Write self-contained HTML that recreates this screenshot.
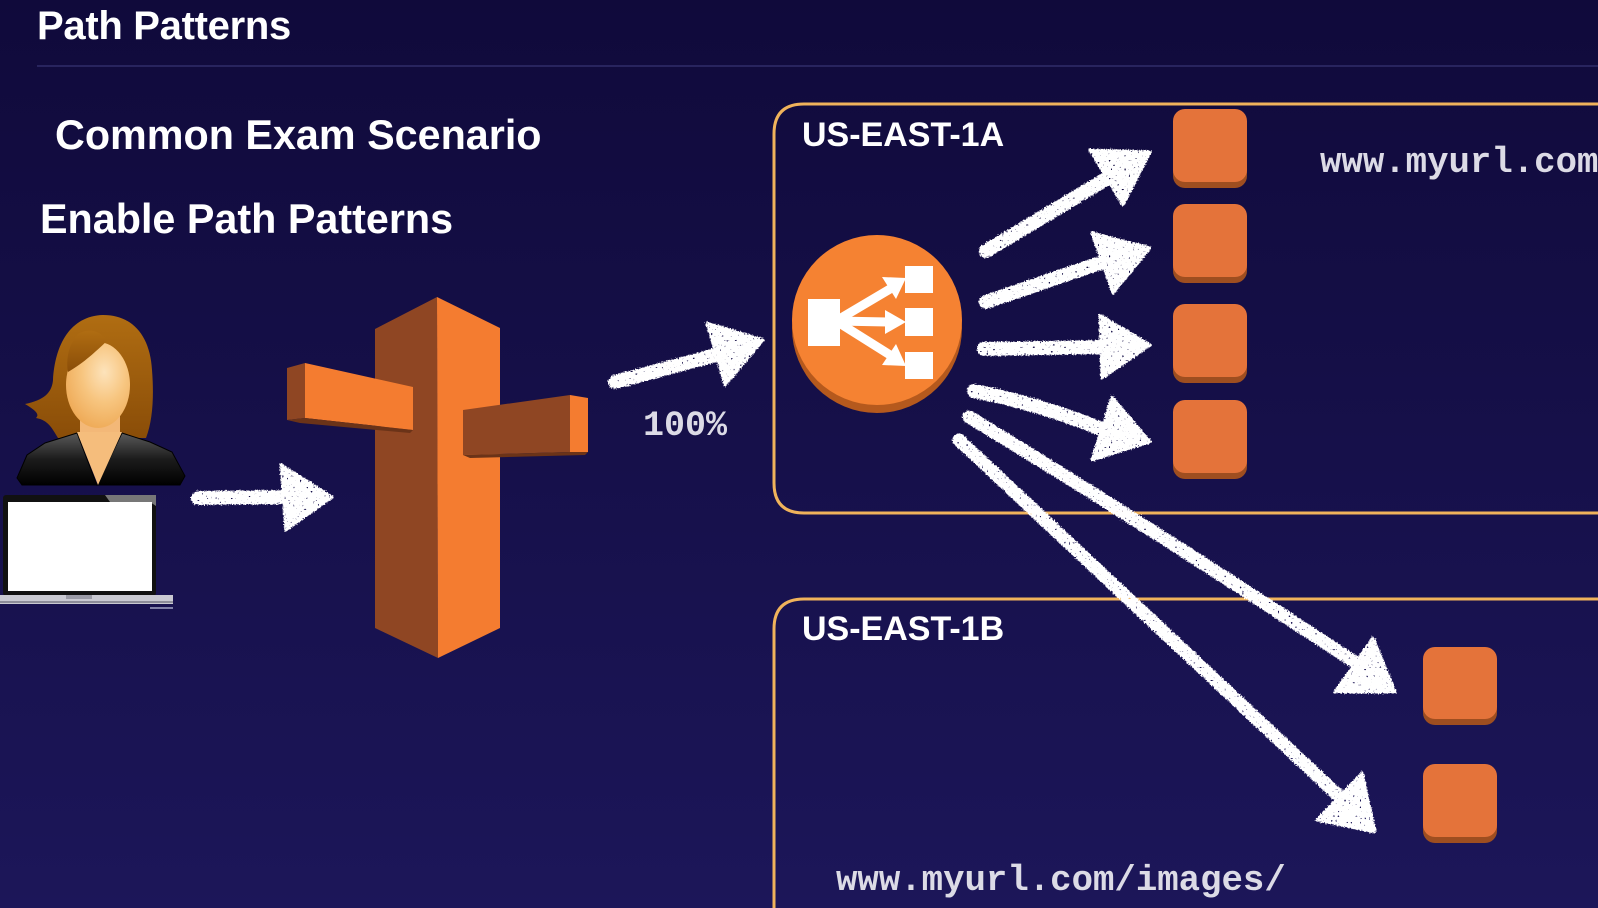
<!DOCTYPE html>
<html>
<head>
<meta charset="utf-8">
<style>
  html,body{margin:0;padding:0;background:#140e47;width:1598px;height:908px;overflow:hidden;}
  svg{display:block;}
</style>
</head>
<body>
<svg width="1598" height="908" viewBox="0 0 1598 908" xmlns="http://www.w3.org/2000/svg">
  <defs>
    <linearGradient id="bg" x1="0" y1="0" x2="0" y2="1">
      <stop offset="0" stop-color="#100a3b"/>
      <stop offset="1" stop-color="#1c1659"/>
    </linearGradient>
    <linearGradient id="hair" x1="0" y1="0" x2="0" y2="1">
      <stop offset="0" stop-color="#b06d12"/>
      <stop offset="1" stop-color="#8a4d08"/>
    </linearGradient>
    <radialGradient id="face" cx="0.6" cy="0.35" r="0.7">
      <stop offset="0" stop-color="#fde3bb"/>
      <stop offset="0.5" stop-color="#f7c57f"/>
      <stop offset="1" stop-color="#eea955"/>
    </radialGradient>
    <linearGradient id="jacket" x1="0" y1="0" x2="0" y2="1">
      <stop offset="0" stop-color="#5a5a5a"/>
      <stop offset="0.5" stop-color="#1c1c1c"/>
      <stop offset="1" stop-color="#000"/>
    </linearGradient>
    <filter id="chalk" x="-10%" y="-10%" width="120%" height="120%">
      <feTurbulence type="fractalNoise" baseFrequency="0.7" numOctaves="2" seed="3" result="n"/>
      <feDisplacementMap in="SourceGraphic" in2="n" scale="4" xChannelSelector="R" yChannelSelector="G" result="d"/>
      <feTurbulence type="fractalNoise" baseFrequency="0.45" numOctaves="1" seed="11" result="n2"/>
      <feColorMatrix in="n2" type="matrix" values="0 0 0 0 0  0 0 0 0 0  0 0 0 0 0  0 0 0 -16 12" result="holes"/>
      <feComposite in="d" in2="holes" operator="in"/>
    </filter>
  </defs>

  <rect x="0" y="0" width="1598" height="908" fill="url(#bg)"/>

  <!-- Title -->
  <text x="37" y="39" font-family="Liberation Sans, Arial, sans-serif" font-weight="bold" font-size="40" fill="#ffffff" letter-spacing="-0.3">Path Patterns</text>
  <line x1="37" y1="66" x2="1598" y2="66" stroke="#28245e" stroke-width="2"/>

  <text x="55" y="149" font-family="Liberation Sans, Arial, sans-serif" font-weight="bold" font-size="41.3" fill="#ffffff">Common Exam Scenario</text>
  <text x="40" y="233" font-family="Liberation Sans, Arial, sans-serif" font-weight="bold" font-size="41.3" fill="#ffffff">Enable Path Patterns</text>

  <!-- Zone boxes -->
  <path d="M1598,104 L804,104 Q774,104 774,134 L774,483 Q774,513 804,513 L1598,513" fill="none" stroke="#f0b35b" stroke-width="3"/>
  <path d="M774,908 L774,629 Q774,599 804,599 L1598,599" fill="none" stroke="#f0b35b" stroke-width="3"/>

  <text x="802" y="146" font-family="Liberation Sans, Arial, sans-serif" font-weight="bold" font-size="34" fill="#ffffff">US-EAST-1A</text>
  <text x="802" y="640" font-family="Liberation Sans, Arial, sans-serif" font-weight="bold" font-size="34" fill="#ffffff">US-EAST-1B</text>

  <text x="1320" y="172" font-family="Liberation Mono, monospace" font-weight="bold" font-size="35.7" fill="#dcdbe6">www.myurl.com</text>
  <text x="836" y="890" font-family="Liberation Mono, monospace" font-weight="bold" font-size="35.7" fill="#dcdbe6">www.myurl.com/images/</text>
  <text x="643" y="435" font-family="Liberation Mono, monospace" font-weight="bold" font-size="35" fill="#dcdbe6">100%</text>

  <!-- Person -->
  <g>
    <path d="M103,315 C70,316 55,345 53,380 C52,392 45,400 25,404 C35,410 40,414 36,418 C48,420 52,428 58,438 L146,438 C153,420 154,395 152,370 C150,335 132,315 103,315 Z" fill="url(#hair)"/>
    <rect x="80" y="410" width="40" height="30" fill="#f3b878"/>
    <ellipse cx="98" cy="385" rx="32" ry="43" fill="url(#face)"/>
    <path d="M107,341 C95,352 85,362 68,372 C66,360 68,345 78,334 C88,328 100,330 107,341 Z" fill="url(#hair)"/>
    <path d="M77,433 L45,443 L27,455 L17,478 L22,485 L180,485 L185,476 L172,452 L150,442 L122,433 L97,485 Z" fill="url(#jacket)" stroke="#000" stroke-width="1"/>
    <polygon points="77,432 122,432 98,485" fill="#f5bd7c"/>
    <!-- laptop -->
    <rect x="3" y="495" width="153" height="101" rx="3" fill="#111"/>
    <polygon points="105,495 156,495 156,506 150,502 110,502" fill="#777"/>
    <rect x="8" y="502" width="144" height="89" fill="#ffffff"/>
    <rect x="0" y="595" width="173" height="9" fill="#c9c9d2"/>
    <rect x="0" y="601" width="173" height="2" fill="#8d8d99"/>
    <rect x="66" y="595" width="26" height="4" fill="#9a9aa6"/>
    <rect x="150" y="607" width="23" height="2" fill="#8080a8"/>
  </g>

  <!-- Route 53 -->
  <g>
    <polygon points="375,329 437,297 438,658 375,628" fill="#8f4623"/>
    <polygon points="437,297 500,328 500,628 438,658" fill="#f47c30"/>
    <polygon points="287,368 305,363 305,418 287,420" fill="#8f4623"/>
    <polygon points="305,363 413,387 413,430 305,418" fill="#f47c30"/>
    <polygon points="287,420 305,418 413,430 410,433 300,423" fill="#6b3318"/>
    <polygon points="463,410 570,395 570,452 463,455" fill="#8f4623"/>
    <polygon points="570,395 588,398 588,452 570,452" fill="#f47c30"/>
    <polygon points="463,455 570,452 588,452 585,455 470,458" fill="#6b3318"/>
  </g>

  <!-- ELB -->
  <g>
    <circle cx="877" cy="328" r="85" fill="#b5591d"/>
    <circle cx="877" cy="320" r="85" fill="#f58232"/>
    <rect x="808" y="299" width="32" height="47" fill="#fff"/>
    <rect x="905" y="266" width="28" height="27" fill="#fff"/>
    <rect x="905" y="308" width="28" height="28" fill="#fff"/>
    <rect x="905" y="352" width="28" height="27" fill="#fff"/>
    <line x1="836" y1="321" x2="890" y2="289" stroke="#fff" stroke-width="9"/>
    <polygon points="906,278 896,299 882,277" fill="#fff"/>
    <line x1="836" y1="321" x2="888" y2="322" stroke="#fff" stroke-width="9"/>
    <polygon points="906,322 885,310 885,334" fill="#fff"/>
    <line x1="836" y1="321" x2="890" y2="355" stroke="#fff" stroke-width="9"/>
    <polygon points="906,366 882,365 896,344" fill="#fff"/>
  </g>

  <!-- Instances A -->
  <g>
    <rect x="1173" y="115" width="74" height="73" rx="12" fill="#9e4e20"/>
    <rect x="1173" y="109" width="74" height="73" rx="12" fill="#e4733a"/>
    <rect x="1173" y="210" width="74" height="73" rx="12" fill="#9e4e20"/>
    <rect x="1173" y="204" width="74" height="73" rx="12" fill="#e4733a"/>
    <rect x="1173" y="310" width="74" height="73" rx="12" fill="#9e4e20"/>
    <rect x="1173" y="304" width="74" height="73" rx="12" fill="#e4733a"/>
    <rect x="1173" y="406" width="74" height="73" rx="12" fill="#9e4e20"/>
    <rect x="1173" y="400" width="74" height="73" rx="12" fill="#e4733a"/>
  </g>
  <!-- Instances B -->
  <g>
    <rect x="1423" y="653" width="74" height="72" rx="12" fill="#9e4e20"/>
    <rect x="1423" y="647" width="74" height="72" rx="12" fill="#e4733a"/>
    <rect x="1423" y="770" width="74" height="73" rx="12" fill="#9e4e20"/>
    <rect x="1423" y="764" width="74" height="73" rx="12" fill="#e4733a"/>
  </g>

  <!-- Chalk arrows -->
  <g filter="url(#chalk)" fill="#ffffff" stroke="#ffffff" stroke-linecap="round" stroke-linejoin="round">
    <line x1="198" y1="498" x2="292" y2="497" stroke-width="14"/>
    <polygon points="281,465 332,497 286,530" stroke-width="3"/>
    <line x1="615" y1="382" x2="716" y2="355" stroke-width="14"/>
    <polygon points="707,323 763,340 725,385" stroke-width="3"/>
    <line x1="986" y1="251" x2="1106" y2="179" stroke-width="14"/>
    <polygon points="1090,150 1150,152 1123,205" stroke-width="3"/>
    <line x1="986" y1="302" x2="1103" y2="262" stroke-width="14"/>
    <polygon points="1092,233 1150,248 1113,293" stroke-width="3"/>
    <line x1="984" y1="349" x2="1102" y2="347" stroke-width="14"/>
    <polygon points="1100,315 1150,345 1102,378" stroke-width="3"/>
    <path d="M974,391 Q1040,404 1104,430" fill="none" stroke-width="14"/>
    <polygon points="1112,397 1150,442 1092,460" stroke-width="3"/>
    <path d="M969,417 Q1120,508 1356,663" fill="none" stroke-width="13"/>
    <polygon points="1373,638 1395,692 1335,692" stroke-width="3"/>
    <line x1="959" y1="440" x2="1341" y2="798" stroke-width="13"/>
    <polygon points="1362,773 1375,832 1317,820" stroke-width="3"/>
  </g>
</svg>
</body>
</html>
